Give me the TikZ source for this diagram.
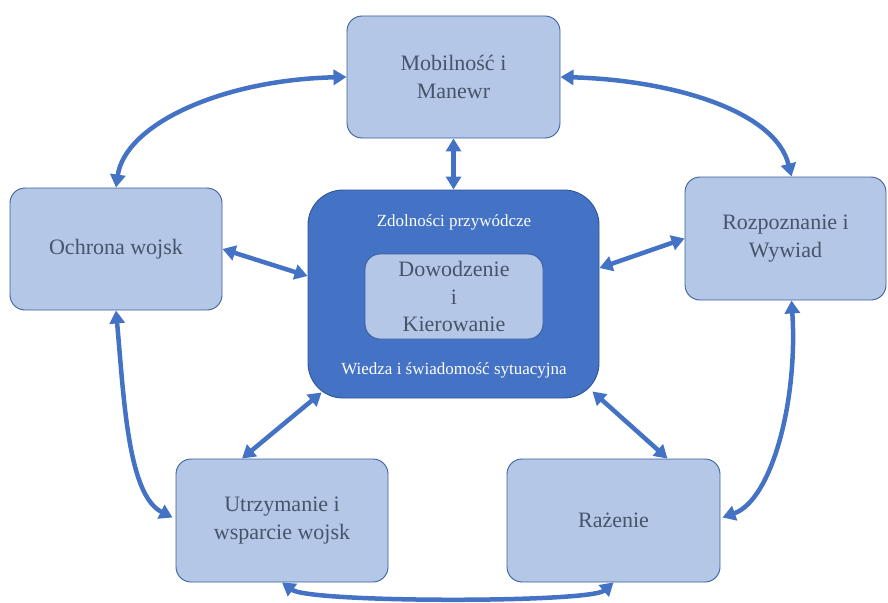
\documentclass[tikz,border=0pt]{standalone}
\usepackage{fontspec}
\setmainfont{Liberation Serif}
\usetikzlibrary{arrows.meta}
\definecolor{lightfill}{HTML}{B4C7E7}
\definecolor{boxline}{HTML}{3A5F9E}
\definecolor{darkfill}{HTML}{4472C4}
\definecolor{darkline}{HTML}{2F5597}
\definecolor{txt}{HTML}{44546A}
\definecolor{arrowc}{HTML}{4472C4}
\tikzset{
  lbox/.style={draw=boxline, line width=0.9pt, fill=lightfill, rounded corners=15pt,
    inner sep=0pt, align=center, text=txt, font=\fontsize{22}{27.5}\selectfont},
  cbox/.style={draw=darkline, line width=0.9pt, fill=darkfill, rounded corners=35pt, inner sep=0pt},
  wtxt/.style={text=white, font=\fontsize{17}{20}\selectfont, inner sep=0pt},
  arr/.style={draw=arrowc, line width=4.5pt, {Triangle[length=13pt,width=15pt]}-{Triangle[length=13pt,width=15pt]}, shorten <=0pt, shorten >=0pt}
}
\begin{document}
\begin{tikzpicture}[x=1pt,y=-1pt]
\useasboundingbox (0,0) rectangle (888,602);
% outer boxes
\node[lbox, minimum width=213pt, minimum height=122pt] (mob) at (453.5,77) {Mobilność i\\Manewr};
\node[lbox, minimum width=212pt, minimum height=122pt] (ochr) at (116,249) {Ochrona wojsk};
\node[lbox, minimum width=201pt, minimum height=123pt] (rozp) at (785.5,238.5) {Rozpoznanie i\\Wywiad};
\node[lbox, minimum width=212pt, minimum height=123pt] (utr) at (282,520.5) {Utrzymanie i\\wsparcie wojsk};
\node[lbox, minimum width=213pt, minimum height=123pt] (raz) at (613.5,520.5) {Rażenie};
% centre
\node[cbox, minimum width=291pt, minimum height=208pt] (cen) at (453.5,294) {};
\node[lbox, minimum width=178pt, minimum height=85pt] (inner) at (454,296.5) {Dowodzenie\\i\\Kierowanie};
\node[wtxt] (zdol) at (454,222) {Zdolności przywódcze};
\node[wtxt] (wied) at (454,370) {Wiedza i świadomość sytuacyjna};
% connectors
\draw[arr] (mob.west) .. controls (220,80) and (125,125) .. (ochr.north);
\draw[arr] (mob.east) .. controls (670,80) and (775,110) .. ([xshift=6pt]rozp.north);
\draw[arr] (mob.south) -- (cen.north);
\draw[arr] (ochr.east) -- ([yshift=18pt]cen.west);
\draw[arr] (rozp.west) -- ([yshift=26pt]cen.east);
\draw[arr] (ochr.south) .. controls (124,400) and (128,495) .. ([xshift=-3pt,yshift=3pt]utr.west);
\draw[arr] ([xshift=6pt]rozp.south) .. controls (798,400) and (772,500) .. ([xshift=2pt,yshift=3pt]raz.east);
\draw[arr] (utr.south) .. controls (310,603) and (590,603) .. (raz.south);
\draw[arr] ([xshift=14pt,yshift=6pt]cen.south west) -- ([xshift=-40pt]utr.north);
\draw[arr] ([xshift=-7pt,yshift=7pt]cen.south east) -- ([xshift=54pt]raz.north);
\end{tikzpicture}
\end{document}
